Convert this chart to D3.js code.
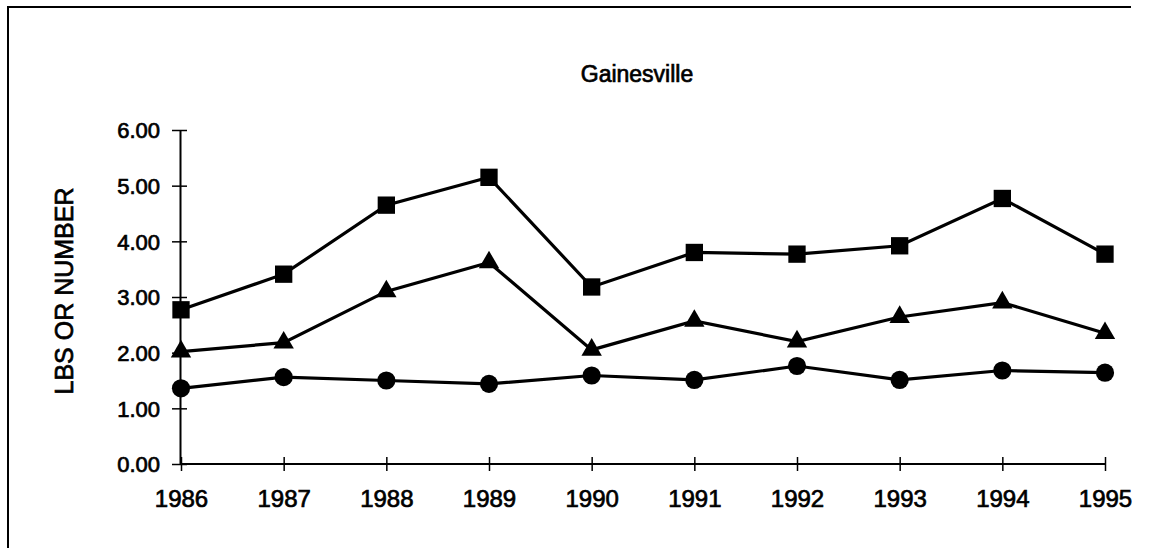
<!DOCTYPE html>
<html>
<head>
<meta charset="utf-8">
<script src="https://cdn.jsdelivr.net/npm/d3@7"></script>
<style>
  body { margin: 0; background: #fff; }
  text { font-family: "Liberation Sans", Arial, sans-serif; fill: #000; stroke: #000; stroke-width: 0.7px; }
</style>
</head>
<body>
<div id="chart"></div>
<script>
const years = [1986, 1987, 1988, 1989, 1990, 1991, 1992, 1993, 1994, 1995];
const squareVals = [2.77, 3.41, 4.65, 5.15, 3.18, 3.80, 3.77, 3.92, 4.77, 3.77];
const triangleVals = [2.02, 2.18, 3.10, 3.62, 2.05, 2.57, 2.20, 2.64, 2.90, 2.35];
const circleVals = [1.36, 1.56, 1.50, 1.44, 1.59, 1.51, 1.76, 1.51, 1.68, 1.64];
const yTicks = [0, 1, 2, 3, 4, 5, 6];

const svg = d3.select("#chart")
    .append("svg")
    .attr("width", 1160)
    .attr("height", 548);

// frame (only top and left edges survive in the scan)
svg.append("path")
    .attr("d", "M8,548 L8,7 L1131,7")
    .attr("fill", "none")
    .attr("stroke", "#000")
    .attr("stroke-width", 2);

const x = d3.scalePoint().domain(years).range([181, 1105]);
const y = d3.scaleLinear().domain([0, 6]).range([464, 130]);

svg.append("text")
    .attr("x", 637)
    .attr("y", 82)
    .attr("text-anchor", "middle")
    .style("font-size", "23px")
    .text("Gainesville");

svg.append("text")
    .attr("transform", "translate(73,291) rotate(-90)")
    .attr("text-anchor", "middle")
    .style("font-size", "25px")
    .text("LBS OR NUMBER");

// y axis
const gy = svg.append("g")
    .attr("transform", "translate(180,0)")
    .call(d3.axisLeft(y).tickValues(yTicks).tickFormat(d3.format(".2f"))
        .tickSizeInner(8).tickSizeOuter(0).tickPadding(12));
gy.select(".domain").attr("stroke", "#000").attr("stroke-width", 2);
gy.selectAll(".tick line").attr("x1", 7).attr("stroke", "#000").attr("stroke-width", 1.5);
gy.selectAll(".tick text").style("font-size", "22px").attr("dy", "0.35em");

// x axis
const gx = svg.append("g")
    .attr("transform", "translate(0,464)")
    .call(d3.axisBottom(x).tickSizeInner(7).tickSizeOuter(0).tickPadding(19));
gx.select(".domain").attr("d", "M180,0H" + x(1995)).attr("stroke", "#000").attr("stroke-width", 2);
gx.selectAll(".tick line").attr("y1", -7).attr("stroke", "#000").attr("stroke-width", 1.5);
gx.selectAll(".tick text").style("font-size", "24px").attr("dy", "0.71em");

const line = d3.line()
    .x((d, i) => x(years[i]))
    .y(d => y(d));

const series = [
    {vals: squareVals, sym: d3.symbolSquare, size: 300},
    {vals: triangleVals, sym: d3.symbolTriangle, size: 180},
    {vals: circleVals, sym: d3.symbolCircle, size: 260}
];

series.forEach(s => {
    svg.append("path")
        .attr("d", line(s.vals))
        .attr("fill", "none")
        .attr("stroke", "#000")
        .attr("stroke-width", 3.2);

    svg.selectAll(null)
        .data(s.vals)
        .enter()
        .append("path")
        .attr("transform", (d, i) => `translate(${x(years[i])},${y(d)})`)
        .attr("d", d3.symbol().type(s.sym).size(s.size))
        .attr("fill", "#000");
});
</script>
</body>
</html>
